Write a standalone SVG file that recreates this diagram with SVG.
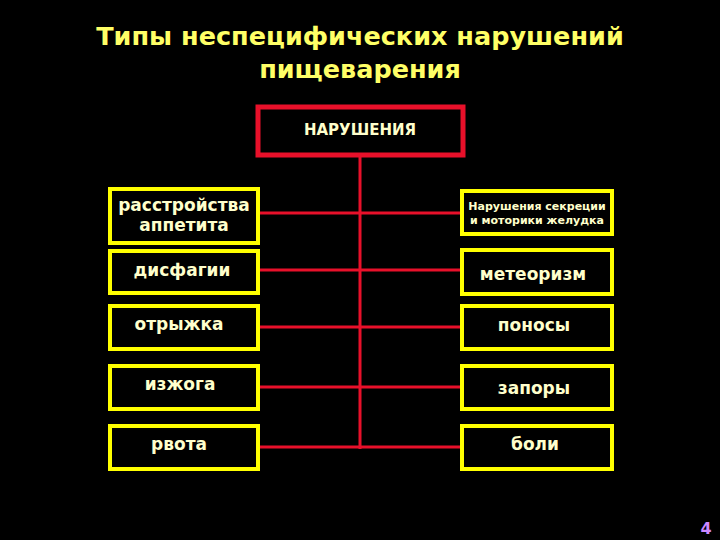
<svg xmlns="http://www.w3.org/2000/svg" width="720" height="540" viewBox="0 0 720 540">
<style>
.b{fill:#000;stroke:#ffff00;stroke-width:4}
.t{font-family:"DejaVu Sans",sans-serif;font-weight:bold;fill:#ffffcc;text-anchor:middle;font-size:17px}
.s{font-size:11px}
.m{font-size:15px}
.c{stroke:#e8102a;stroke-width:3;fill:none}
</style>
<rect width="720" height="540" fill="#000"/>
<text x="360" y="45" font-family="DejaVu Sans,sans-serif" font-weight="bold" font-size="25.5" fill="#ffff66" text-anchor="middle">Типы неспецифических нарушений</text>
<text x="360" y="78" font-family="DejaVu Sans,sans-serif" font-weight="bold" font-size="25.5" fill="#ffff66" text-anchor="middle">пищеварения</text>
<g id="connectors">
<line class="c" x1="360" y1="155" x2="360" y2="449"/>
<line class="c" x1="260" y1="213" x2="460" y2="213"/>
<line class="c" x1="260" y1="270" x2="460" y2="270"/>
<line class="c" x1="260" y1="327" x2="460" y2="327"/>
<line class="c" x1="260" y1="387" x2="460" y2="387"/>
<line class="c" x1="260" y1="447" x2="460" y2="447"/>
</g>
<g id="root"><rect x="258" y="107" width="205" height="48" fill="#000" stroke="#e8102a" stroke-width="5"/><text class="t m" x="360" y="135">НАРУШЕНИЯ</text></g>
<g id="l1"><rect class="b" x="110" y="189" width="148" height="54"/><text class="t" x="184" y="211">расстройства</text><text class="t" x="184" y="231">аппетита</text></g>
<g id="l2"><rect class="b" x="110" y="251" width="148" height="42"/><text class="t" x="182" y="276">дисфагии</text></g>
<g id="l3"><rect class="b" x="110" y="306" width="148" height="43"/><text class="t" x="179" y="330">отрыжка</text></g>
<g id="l4"><rect class="b" x="110" y="366" width="148" height="43"/><text class="t" x="180" y="390">изжога</text></g>
<g id="l5"><rect class="b" x="110" y="426" width="148" height="43"/><text class="t" x="179" y="450">рвота</text></g>
<g id="r1"><rect class="b" x="462" y="191" width="150" height="43"/><text class="t s" x="537" y="210">Нарушения секреции</text><text class="t s" x="537" y="224">и моторики желудка</text></g>
<g id="r2"><rect class="b" x="462" y="250" width="150" height="44"/><text class="t" x="533" y="280">метеоризм</text></g>
<g id="r3"><rect class="b" x="462" y="306" width="150" height="43"/><text class="t" x="534" y="331">поносы</text></g>
<g id="r4"><rect class="b" x="462" y="366" width="150" height="43"/><text class="t" x="534" y="394">запоры</text></g>
<g id="r5"><rect class="b" x="462" y="426" width="150" height="43"/><text class="t" x="535" y="450">боли</text></g>
<text x="706" y="534" font-family="DejaVu Sans,sans-serif" font-weight="bold" font-size="16" fill="#cc88ff" text-anchor="middle">4</text>
</svg>
